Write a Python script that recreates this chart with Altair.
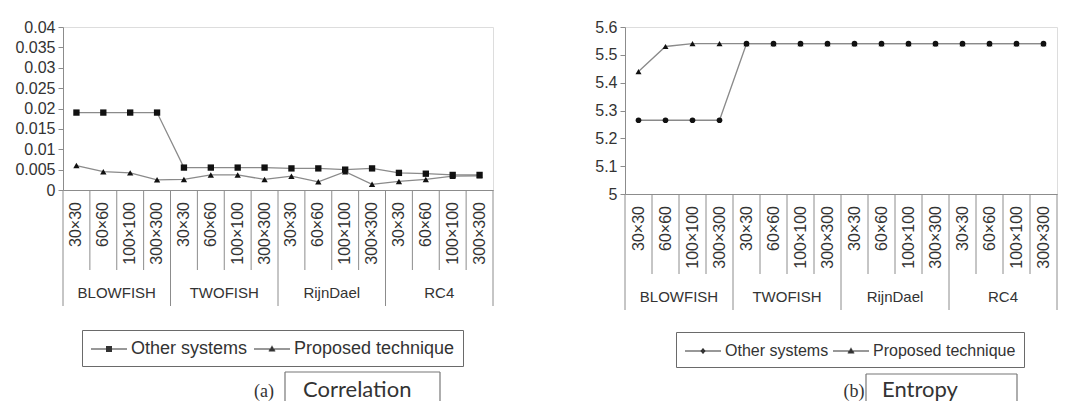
import altair as alt
import pandas as pd

# ---------------- data ----------------
groups = ["BLOWFISH", "TWOFISH", "RijnDael", "RC4"]
sizes = ["30×30", "60×60", "100×100", "300×300"]
series_names = ["Other systems", "Proposed technique"]

corr_other = [0.019, 0.019, 0.019, 0.019,
              0.0055, 0.0055, 0.0055, 0.0055,
              0.0053, 0.0053, 0.0050, 0.0053,
              0.0042, 0.0040, 0.0037, 0.0037]
corr_proposed = [0.0060, 0.0045, 0.0042, 0.0025,
                 0.0026, 0.0037, 0.0037, 0.0026,
                 0.0034, 0.0020, 0.0045, 0.0014,
                 0.0021, 0.0026, 0.0034, 0.0035]
corr_ticks = [0, 0.005, 0.01, 0.015, 0.02, 0.025, 0.03, 0.035, 0.04]

ent_other = [5.265, 5.265, 5.265, 5.265,
             5.54, 5.54, 5.54, 5.54,
             5.54, 5.54, 5.54, 5.54,
             5.54, 5.54, 5.54, 5.54]
ent_proposed = [5.44, 5.53, 5.54, 5.54,
                5.54, 5.54, 5.54, 5.54,
                5.54, 5.54, 5.54, 5.54,
                5.54, 5.54, 5.54, 5.54]
ent_ticks = [5, 5.1, 5.2, 5.3, 5.4, 5.5, 5.6]

# ---------------- style ----------------
FONT = "Liberation Sans"
TXT = "#333333"
AX = "#8c8c8c"
LINE = "#8a8a8a"
MK = "#111111"


def panel(other, proposed, ticks, width, height, marker_shapes, legend_paths,
          legend_xy, legend_font, label_offset, col_pad, letter, word, cap):
    n = len(groups) * len(sizes)
    rows = []
    for gi, g in enumerate(groups):
        for si, s in enumerate(sizes):
            i = gi * len(sizes) + si
            rows.append({"pos": i + 0.5, "group": g, "size": s,
                         series_names[0]: other[i], series_names[1]: proposed[i]})
    df = pd.DataFrame(rows)
    long = df.melt(id_vars=["pos", "group", "size"], value_vars=series_names,
                   var_name="series", value_name="value")

    bounds = pd.DataFrame({"b": list(range(n + 1))})
    bounds["major"] = bounds["b"] % len(sizes) == 0
    gdf = pd.DataFrame({"group": groups,
                        "gpos": [gi * len(sizes) + len(sizes) / 2 for gi in range(len(groups))]})

    xscale = alt.Scale(domain=[0, n], nice=False, zero=False)
    yscale = alt.Scale(domain=[ticks[0], ticks[-1]], nice=False, zero=False)
    x_axis = alt.Axis(labels=False, ticks=False, grid=False, domain=True,
                      domainColor=AX, title=None)
    y_axis = alt.Axis(values=ticks, labelExpr="'' + datum.value", grid=False,
                      domainColor=AX, tickColor=AX, tickSize=5, labelPadding=3,
                      labelFontSize=16, labelColor=TXT, labelFont=FONT, title=None)

    def X(field):
        return alt.X(field, scale=xscale, axis=x_axis)

    Y = alt.Y("value:Q", scale=yscale, axis=y_axis)

    base = alt.Chart(long)
    line = base.mark_line(color=LINE, strokeWidth=1.3).encode(
        x=X("pos:Q"), y=Y, detail="series:N")
    pts = []
    for sname, (shp, sz) in zip(series_names, marker_shapes):
        pts.append(base.transform_filter(alt.datum.series == sname)
                   .mark_point(filled=True, color=MK, size=sz, shape=shp, opacity=1)
                   .encode(x=X("pos:Q"), y=Y))

    legend_layer = base.mark_point(filled=False, color="#333", opacity=0).encode(
        x=X("pos:Q"), y=Y,
        shape=alt.Shape("series:N",
                        scale=alt.Scale(domain=series_names, range=legend_paths),
                        legend=alt.Legend(orient="none", legendX=legend_xy[0],
                                          legendY=legend_xy[1], direction="horizontal",
                                          title=None, strokeColor="#6a6a6a",
                                          padding=8, symbolSize=400,
                                          symbolOffset=8, labelOffset=label_offset,
                                          columnPadding=col_pad, symbolOpacity=1,
                                          symbolStrokeColor="#333", labelLimit=400,
                                          symbolStrokeWidth=1.1, labelFontSize=legend_font,
                                          labelFont=FONT, labelColor=TXT)))

    minor = alt.Chart(bounds).transform_filter(~alt.datum.major).mark_rule(
        color=AX, strokeWidth=1).encode(
        x=X("b:Q"), y=alt.value(height), y2=alt.value(height + 80))
    major = alt.Chart(bounds).transform_filter(alt.datum.major).mark_rule(
        color=AX, strokeWidth=1).encode(
        x=X("b:Q"), y=alt.value(height), y2=alt.value(height + 116))

    size_txt = alt.Chart(df).mark_text(angle=270, align="right", baseline="middle",
                                       fontSize=16, font=FONT, color=TXT).encode(
        x=X("pos:Q"), y=alt.value(height + 12), text="size:N")
    group_txt = alt.Chart(gdf).mark_text(align="center", baseline="middle",
                                         fontSize=15, font=FONT, color=TXT).encode(
        x=X("gpos:Q"), y=alt.value(height + 103), text="group:N")

    cdf = pd.DataFrame({"letter": [letter], "word": [word]})
    letter_txt = alt.Chart(cdf).mark_text(align="center", baseline="alphabetic",
                                          fontSize=18, font="Liberation Serif",
                                          color=TXT).encode(
        x=alt.value(cap["letter_x"]), y=alt.value(cap["base"]), text="letter:N")
    word_txt = alt.Chart(cdf).mark_text(align="left", baseline="alphabetic",
                                        fontSize=22, font="Lato", color=TXT).encode(
        x=alt.value(cap["word_x"]), y=alt.value(cap["base"]), text="word:N")
    box_top = alt.Chart(cdf).mark_rule(color="#777", strokeWidth=1.2).encode(
        x=alt.value(cap["l"]), x2=alt.value(cap["r"]), y=alt.value(cap["top"]))
    box_l = alt.Chart(cdf).mark_rule(color="#777", strokeWidth=1.2).encode(
        x=alt.value(cap["l"]), y=alt.value(cap["top"]), y2=alt.value(cap["bottom"]))
    box_r = alt.Chart(cdf).mark_rule(color="#777", strokeWidth=1.2).encode(
        x=alt.value(cap["r"]), y=alt.value(cap["top"]), y2=alt.value(cap["bottom"]))

    return alt.layer(line, minor, major, size_txt, group_txt, *pts, legend_layer,
                     letter_txt, word_txt, box_top, box_l, box_r).properties(
        width=width, height=height)


# legend glyphs: a line with a small marker drawn by short strokes
sq = ("M-1.8,0H1.8"
      "M-0.3,-0.25H0.3M-0.3,-0.15H0.3M-0.3,-0.05H0.3"
      "M-0.3,0.05H0.3M-0.3,0.15H0.3M-0.3,0.25H0.3")
tri = ("M-1.8,0H1.8"
       "M-0.03,-0.3H0.03M-0.09,-0.2H0.09M-0.15,-0.1H0.15"
       "M-0.21,0H0.21M-0.27,0.1H0.27M-0.33,0.2H0.33")
dia = ("M-1.8,0H1.8"
       "M-0.05,-0.25H0.05M-0.13,-0.15H0.13M-0.22,-0.05H0.22"
       "M-0.22,0.05H0.22M-0.13,0.15H0.13M-0.05,0.25H0.05")

left = panel(corr_other, corr_proposed, corr_ticks, 430, 163,
             [("square", 40), ("triangle-up", 40)], [sq, tri], (19, 303), 18, 11, 3,
             "(a)", "Correlation",
             {"letter_x": 201, "word_x": 240, "base": 370,
              "l": 222, "r": 377, "top": 345, "bottom": 374})
right = panel(ent_other, ent_proposed, ent_ticks, 432, 167,
              [("circle", 32), ("triangle-up", 36)], [dia, tri], (51, 305), 16, 11, 1,
              "(b)", "Entropy",
              {"letter_x": 229, "word_x": 257, "base": 370,
               "l": 241, "r": 392, "top": 347, "bottom": 374})

chart = alt.hconcat(left, right, spacing=100).resolve_scale(
    x="independent", y="independent", shape="independent"
).resolve_legend(shape="independent").properties(
    padding={"left": 6, "top": 10, "right": 0, "bottom": 0}
).configure_view(stroke="transparent").configure(background="white")

chart.save("out.html", embed_options={"renderer": "svg", "actions": False})
